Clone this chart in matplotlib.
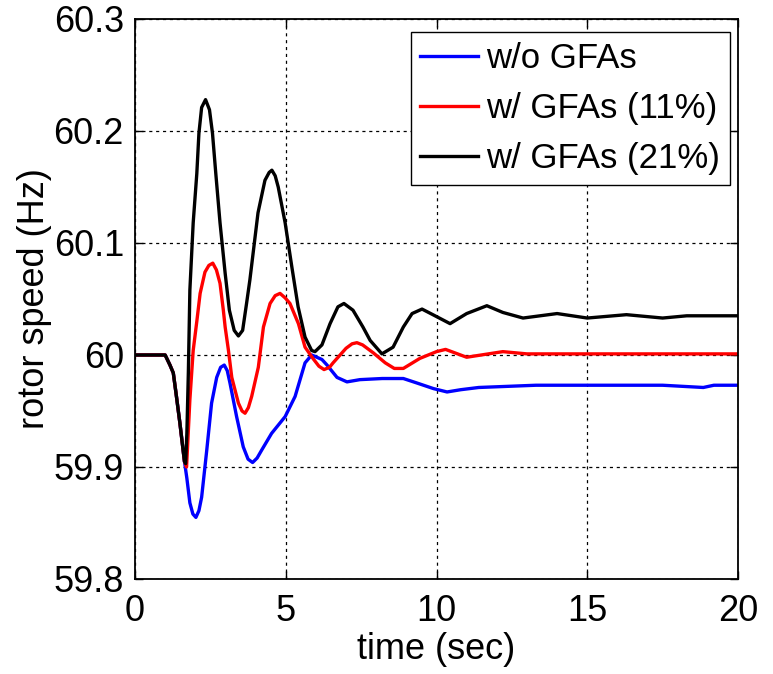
import matplotlib
matplotlib.use("Agg")
import matplotlib.pyplot as plt
from matplotlib import font_manager

# ---------------- data ----------------
t_gfa0 = [0, 1.0, 1.16, 1.27, 1.36, 1.49, 1.64, 1.72, 1.82, 1.92, 2.02, 2.12, 2.21, 2.38,
          2.54, 2.71, 2.84, 2.96, 3.06, 3.15, 3.37, 3.59, 3.75, 3.9, 4.05, 4.2, 4.53,
          4.98, 5.31, 5.64, 5.86, 6.03, 6.2, 6.37, 6.7, 7.03, 7.46, 8.2, 8.9, 9.35,
          9.9, 10.35, 10.8, 11.4, 13.3, 17.5, 18.85, 19.2, 20]
f_gfa0 = [60.0, 60.0, 59.991, 59.984, 59.966, 59.939, 59.905, 59.890, 59.868, 59.858,
          59.855, 59.861, 59.873, 59.915, 59.957, 59.980, 59.989, 59.991, 59.986, 59.975,
          59.945, 59.918, 59.907, 59.904, 59.908, 59.915, 59.930, 59.945, 59.963, 59.993,
          60.000, 59.998, 59.996, 59.991, 59.980, 59.976, 59.978, 59.979, 59.979, 59.975,
          59.970, 59.967, 59.969, 59.971, 59.973, 59.973, 59.971, 59.973, 59.973]

t_gfa11 = [0, 1.0, 1.16, 1.27, 1.36, 1.49, 1.64, 1.71, 1.82, 1.93, 2.05, 2.16, 2.32, 2.45,
           2.58, 2.7, 2.82, 2.93, 2.99, 3.1, 3.21, 3.43, 3.55, 3.65, 3.76, 3.87, 4.09,
           4.26, 4.48, 4.65, 4.81, 4.98, 5.14, 5.42, 5.64, 5.9, 6.1, 6.27, 6.45, 6.57,
           7.0, 7.2, 7.36, 7.55, 7.9, 8.3, 8.6, 8.9, 9.45, 10.0, 10.3, 11.0, 12.2, 13.0,
           20]
f_gfa11 = [60.0, 60.0, 59.991, 59.984, 59.966, 59.939, 59.905, 59.900, 59.960, 60.004,
           60.030, 60.055, 60.074, 60.080, 60.082, 60.076, 60.064, 60.040, 60.025, 60.004,
           59.980, 59.957, 59.950, 59.948, 59.953, 59.963, 59.989, 60.025, 60.046, 60.053,
           60.055, 60.051, 60.046, 60.028, 60.007, 59.997, 59.990, 59.987, 59.989, 59.993,
           60.006, 60.010, 60.011, 60.009, 60.002, 59.993, 59.988, 59.988, 59.997, 60.003,
           60.005, 59.998, 60.003, 60.001, 60.001]

t_gfa21 = [0, 1.0, 1.16, 1.27, 1.36, 1.49, 1.64, 1.68, 1.72, 1.77, 1.82, 1.93, 2.05, 2.12,
           2.21, 2.34, 2.47, 2.57, 2.68, 2.82, 2.99, 3.13, 3.29, 3.43, 3.57, 3.7, 3.81,
           4.08, 4.31, 4.45, 4.54, 4.65, 4.75, 4.98, 5.2, 5.41, 5.64, 5.86, 5.97, 6.2,
           6.47, 6.73, 6.93, 7.23, 7.56, 7.8, 8.19, 8.56, 8.9, 9.19, 9.52, 9.88, 10.45,
           11.0, 11.67, 12.2, 12.87, 14.0, 15.0, 16.3, 17.5, 18.3, 20]
f_gfa21 = [60.0, 60.0, 59.991, 59.984, 59.966, 59.939, 59.905, 59.903, 59.930, 59.985,
           60.058, 60.118, 60.162, 60.198, 60.221, 60.228, 60.219, 60.198, 60.162, 60.118,
           60.073, 60.040, 60.022, 60.017, 60.022, 60.046, 60.067, 60.127, 60.156, 60.163,
           60.165, 60.160, 60.150, 60.118, 60.079, 60.043, 60.016, 60.004, 60.003, 60.009,
           60.028, 60.043, 60.046, 60.040, 60.025, 60.013, 60.001, 60.007, 60.025, 60.037,
           60.041, 60.036, 60.028, 60.037, 60.044, 60.038, 60.033, 60.037, 60.033, 60.036,
           60.033, 60.035, 60.035]

series_labels = ["w/o GFAs", "w/ GFAs (11%)", "w/ GFAs (21%)"]
series_colors = ["#0000ff", "#ff0000", "#000000"]
x_ticks = [0, 5, 10, 15, 20]
y_ticks = [59.8, 59.9, 60.0, 60.1, 60.2, 60.3]
y_ticklabels = ["59.8", "59.9", "60", "60.1", "60.2", "60.3"]

# ---------------- style ----------------
names = {f.name for f in font_manager.fontManager.ttflist}
fam = "Liberation Sans Narrow" if "Liberation Sans Narrow" in names else "Liberation Sans"
plt.rcParams['font.family'] = [fam, 'DejaVu Sans']
FS = 26

fig = plt.figure(figsize=(7.73, 6.74), dpi=100)
ax = fig.add_axes([135 / 773, 95 / 674, 603 / 773, 560 / 674])

for t, f, lab, c in zip([t_gfa0, t_gfa11, t_gfa21], [f_gfa0, f_gfa11, f_gfa21],
                        series_labels, series_colors):
    ax.plot(t, f, color=c, lw=2.4, label=lab, solid_joinstyle='round')

ax.set_xlim(0, 20)
ax.set_ylim(59.8, 60.3)
ax.set_xticks(x_ticks)
ax.set_xticklabels([str(v) for v in x_ticks])
ax.set_yticks(y_ticks)
ax.set_yticklabels(y_ticklabels)
ax.tick_params(direction='in', top=True, right=True, length=6, width=1,
               labelsize=FS, colors='black')
ax.tick_params(axis='x', pad=11)
ax.tick_params(axis='y', pad=8)
ax.grid(True, color='black', linestyle=(0, (2.5, 3)), linewidth=0.9)
for s in ax.spines.values():
    s.set_linewidth(1.3)
    s.set_color('black')

ax.set_xlabel("time (sec)", fontsize=FS, labelpad=2)
ax.set_ylabel("rotor speed (Hz)", fontsize=FS, labelpad=1)

leg = ax.legend(loc='upper right', bbox_to_anchor=((730 - 135) / 603, (579 - 32) / 560),
                borderaxespad=0, fontsize=25, handlelength=1.65, handletextpad=0.25,
                labelspacing=0.5, borderpad=0.28, fancybox=False, framealpha=1,
                edgecolor='black')
leg.get_frame().set_linewidth(1.0)

fig.savefig("out.png", dpi=100)
